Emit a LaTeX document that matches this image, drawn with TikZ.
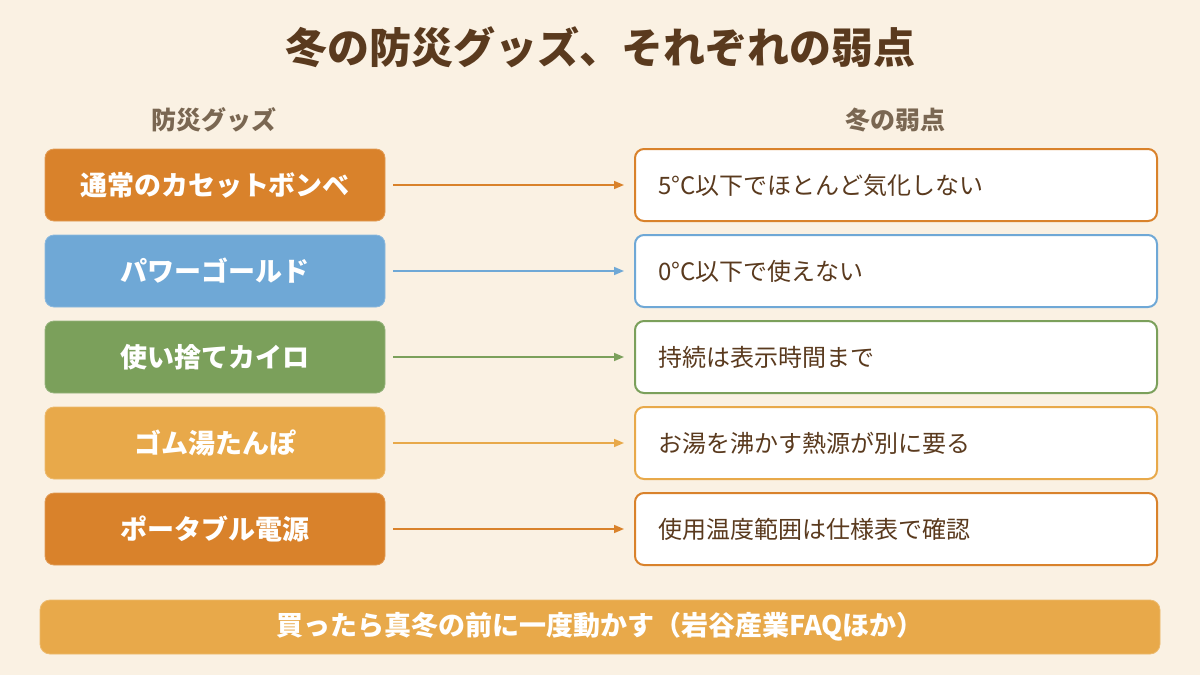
\documentclass[tikz,border=0pt]{standalone}
\usepackage{fontspec}
\setmainfont{Noto Sans CJK JP}
\usetikzlibrary{arrows.meta}
\definecolor{bg}{HTML}{FAF1E3}
\definecolor{cOrange}{HTML}{D9822B}
\definecolor{cBlue}{HTML}{6FA8D6}
\definecolor{cGreen}{HTML}{7BA05B}
\definecolor{cLight}{HTML}{E8A94A}
\definecolor{cBrown}{HTML}{5A3A1E}
\definecolor{cHead}{HTML}{7A6752}
\tikzset{
  goods/.style={rounded corners=9pt, minimum width=340pt, minimum height=72pt, inner sep=0pt, text=white, font=\fontsize{27}{31}\selectfont\bfseries, draw=#1!80!white, line width=0.8pt, fill=#1},
  weak/.style={rounded corners=9pt, minimum width=522pt, minimum height=72pt, inner sep=0pt, fill=white, draw=#1, line width=2pt},
  weaktext/.style={anchor=west, text=cBrown, font=\fontsize{24}{28}\selectfont, inner sep=0pt},
  conn/.style={draw=#1, line width=1.6pt, -{Triangle[length=10pt,width=8pt]}}
}
\begin{document}
\begin{tikzpicture}[x=1pt,y=-1pt]
\fill[bg] (0,0) rectangle (1200,675);
\useasboundingbox (0,0) rectangle (1200,675);
\node[text=cBrown, font=\fontsize{42}{46}\selectfont\bfseries] (title) at (600,47) {冬の防災グッズ、それぞれの弱点};
\node[text=cHead, font=\fontsize{25}{29}\selectfont\bfseries] (h1) at (214,120) {防災グッズ};
\node[text=cHead, font=\fontsize{25}{29}\selectfont\bfseries] (h2) at (895,120) {冬の弱点};
\foreach \i/\y/\c/\g/\w in {1/185/cOrange/通常のカセットボンベ/5°C以下でほとんど気化しない,
  2/271/cBlue/パワーゴールド/0°C以下で使えない,
  3/357/cGreen/使い捨てカイロ/持続は表示時間まで,
  4/443/cLight/ゴム湯たんぽ/お湯を沸かす熱源が別に要る,
  5/529/cOrange/ポータブル電源/使用温度範囲は仕様表で確認}{
  \node[goods=\c] (g\i) at (215,\y) {\g};
  \node[weak=\c] (w\i) at (896,\y) {};
  \node[weaktext] (t\i) at (658,\y) {\w};
  \draw[conn=\c] ([xshift=8pt]g\i.east) -- ([xshift=-10pt]w\i.west);
}
\node[rounded corners=10pt, fill=cLight, draw=cLight!80!white, line width=0.8pt, minimum width=1120pt, minimum height=54pt, text=white, font=\fontsize{27}{31}\selectfont\bfseries] (foot) at (600,627) {買ったら真冬の前に一度動かす（岩谷産業FAQほか）};
\end{tikzpicture}
\end{document}
